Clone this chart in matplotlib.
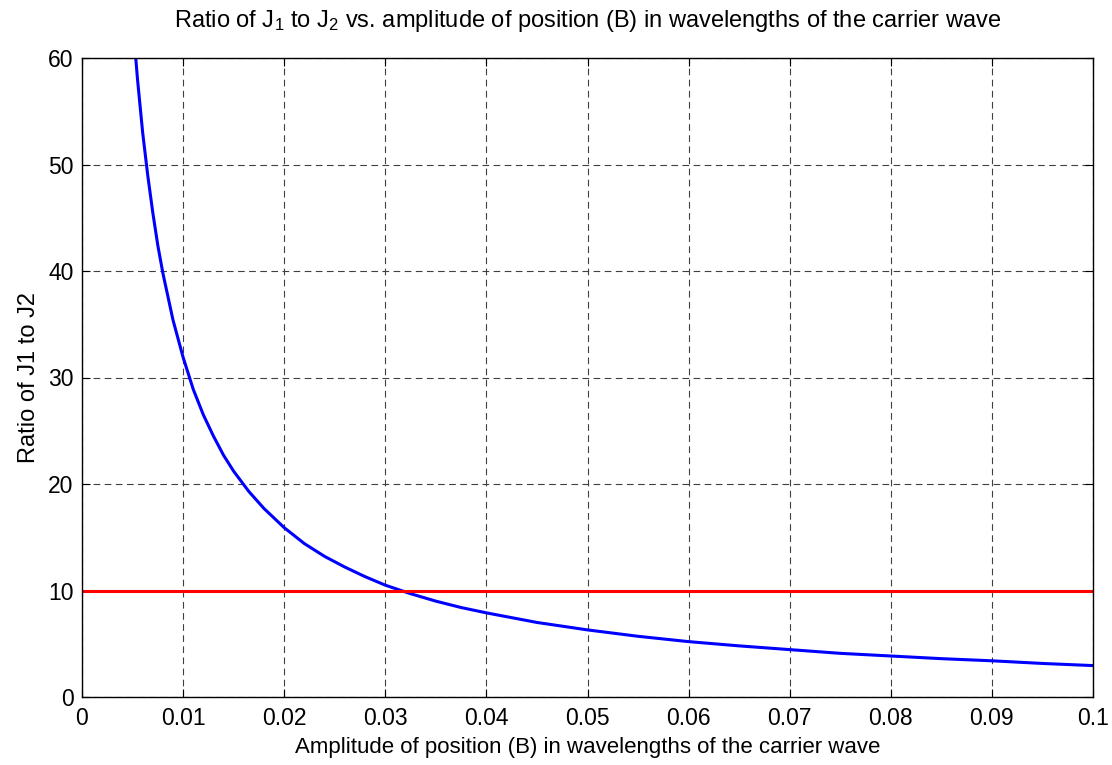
import matplotlib
matplotlib.use("Agg")
import matplotlib.pyplot as plt
import numpy as np

# amplitude B (wavelengths of the carrier) and the J1/J2 ratio
amplitude = [0.0050, 0.0055, 0.0060, 0.0065, 0.0070, 0.0075, 0.0080, 0.0090,
             0.0100, 0.0110, 0.0120, 0.0130, 0.0140, 0.0150, 0.0165, 0.0180,
             0.0200, 0.0220, 0.0240, 0.0260, 0.0280, 0.0300, 0.0325, 0.0350,
             0.0375, 0.0400, 0.0450, 0.0500, 0.0550, 0.0600, 0.0650, 0.0700,
             0.0750, 0.0800, 0.0850, 0.0900, 0.0950, 0.1000]
ratio = [63.6, 57.9, 53.0, 49.0, 45.5, 42.4, 39.8, 35.4,
         31.9, 28.9, 26.5, 24.5, 22.7, 21.2, 19.3, 17.7,
         15.9, 14.4, 13.2, 12.2, 11.3, 10.5, 9.7, 9.0,
         8.4, 7.9, 7.0, 6.3, 5.7, 5.2, 4.8, 4.45,
         4.1, 3.85, 3.6, 3.4, 3.15, 2.95]
threshold_x = [0.0, 0.1]
threshold_y = [10, 10]

xticks = [0, 0.01, 0.02, 0.03, 0.04, 0.05, 0.06, 0.07, 0.08, 0.09, 0.1]
xticklabels = ["0", "0.01", "0.02", "0.03", "0.04", "0.05", "0.06", "0.07", "0.08", "0.09", "0.1"]
yticks = [0, 10, 20, 30, 40, 50, 60]

plt.rcParams["font.family"] = ["Liberation Sans", "DejaVu Sans"]
plt.rcParams["mathtext.default"] = "regular"
plt.rcParams["font.size"] = 16.5

fig = plt.figure(figsize=(11.12, 7.65), dpi=100)
ax = fig.add_axes([82 / 1112, 68 / 765, 1011 / 1112, 639 / 765])

ax.plot(amplitude, ratio, color="blue", linewidth=2.2)
ax.plot(threshold_x, threshold_y, color="red", linewidth=2.2)

ax.set_xlim(0, 0.1)
ax.set_ylim(0, 60)
ax.set_xticks(xticks)
ax.set_xticklabels(xticklabels)
ax.set_yticks(yticks)

ax.grid(True, color="#404040", linestyle=(0, (6, 4)), linewidth=0.8)
ax.tick_params(direction="in", length=6, width=0.8, top=True, right=True)
ax.tick_params(axis="x", pad=7)
ax.tick_params(axis="y", pad=6)
for s in ax.spines.values():
    s.set_linewidth(1.0)

ax.set_xlabel("Amplitude of position (B) in wavelengths of the carrier wave", fontsize=16, labelpad=5)
ax.set_ylabel("Ratio of J1 to J2", fontsize=17, labelpad=6)
ax.set_title("Ratio of J$_1$ to J$_2$ vs. amplitude of position (B) in wavelengths of the carrier wave",
             fontsize=17, pad=22)

plt.savefig("out.png", dpi=100)
